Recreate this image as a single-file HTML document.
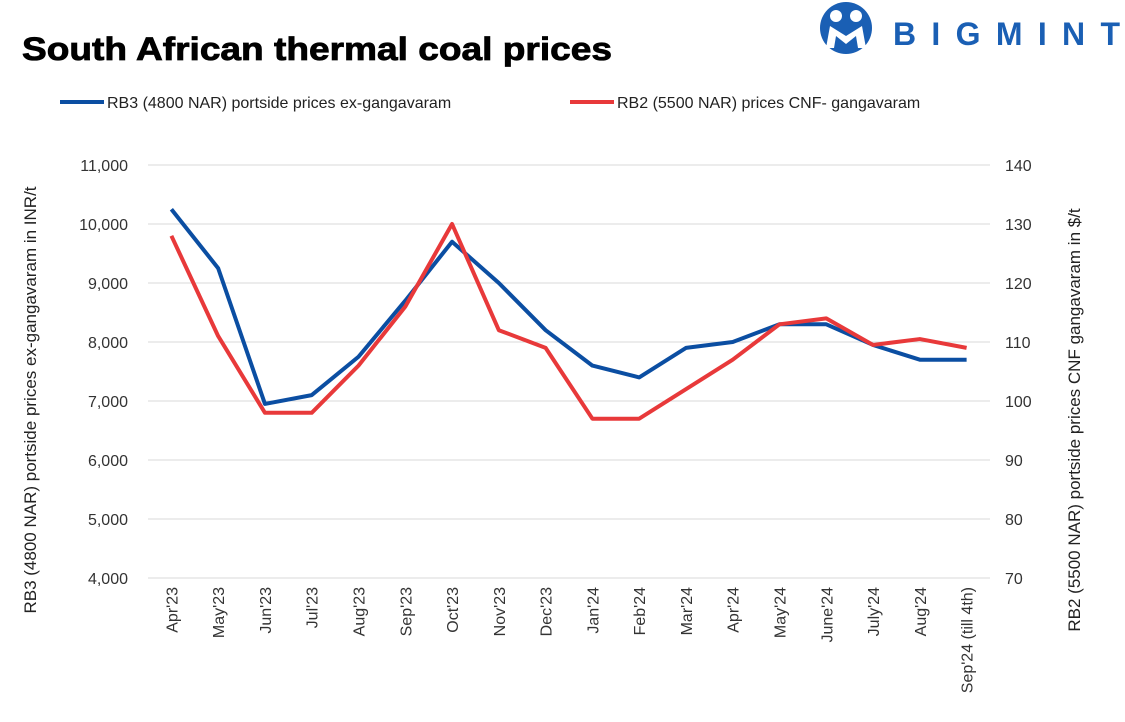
<!DOCTYPE html>
<html><head><meta charset="utf-8"><style>
body{margin:0;background:#fff;font-family:"Liberation Sans",sans-serif;}
</style></head><body>
<svg width="1125" height="717" xmlns="http://www.w3.org/2000/svg" font-family="Liberation Sans, sans-serif" id="chart">
<text x="22" y="60" font-size="32" font-weight="bold" fill="#000" textLength="590" lengthAdjust="spacingAndGlyphs" stroke="#000" stroke-width="0.8">South African thermal coal prices</text>
<g>
<circle cx="846" cy="28" r="26" fill="#1a5fb4"/>
<circle cx="836" cy="16" r="6" fill="#fff"/><circle cx="856" cy="16" r="6" fill="#fff"/>
<path d="M826 48 L830 26 L846 36 L862 26 L866 48 L858 48 L856 36 L846 44 L836 36 L834 48Z" fill="#fff"/>
<text x="893" y="45" font-size="32" font-weight="bold" fill="#1a5fb4" textLength="227" lengthAdjust="spacing">BIGMINT</text>
</g>
<g>
<line x1="60" y1="102" x2="104" y2="102" stroke="#0b4ea2" stroke-width="4"/>
<text x="107" y="108" font-size="16" fill="#222">RB3 (4800 NAR) portside prices ex-gangavaram</text>
<line x1="570" y1="102" x2="614" y2="102" stroke="#e8393a" stroke-width="4"/>
<text x="617" y="108" font-size="16" fill="#222">RB2 (5500 NAR) prices CNF- gangavaram</text>
</g>
<g id="grid"></g><g id="axes"></g><g id="series"></g>
<text transform="translate(36,400) rotate(-90)" text-anchor="middle" font-size="17" fill="#222">RB3 (4800 NAR) portside prices ex-gangavaram  in INR/t</text>
<text transform="translate(1080,420) rotate(-90)" text-anchor="middle" font-size="17" fill="#222">RB2 (5500 NAR) portside prices CNF  gangavaram  in $/t</text>
</svg>
<script>
const categories=["Apr'23","May'23","Jun'23","Jul'23","Aug'23","Sep'23","Oct'23","Nov'23","Dec'23","Jan'24","Feb'24","Mar'24","Apr'24","May'24","June'24","July'24","Aug'24","Sep'24 (till 4th)"];
const rb3Values=[10250,9250,6950,7100,7750,8700,9700,9000,8200,7600,7400,7900,8000,8300,8300,7950,7700,7700];
const rb2Values=[128,111,98,98,106,116,130,112,109,97,97,102,107,113,114,109.5,110.5,109];
const leftTicks=[4000,5000,6000,7000,8000,9000,10000,11000];
const rightTicks=[70,80,90,100,110,120,130,140];
const NS="http://www.w3.org/2000/svg";
const X0=148,X1=990,TOP=165,BOT=578;
const step=(X1-X0)/categories.length;
const x=i=>X0+step*(i+0.5);
const yL=v=>BOT-(v-4000)/(11000-4000)*(BOT-TOP);
const yR=v=>BOT-(v-70)/(140-70)*(BOT-TOP);
function mk(tag,attrs,parent,text){const e=document.createElementNS(NS,tag);for(const k in attrs)e.setAttribute(k,attrs[k]);if(text!==undefined)e.textContent=text;document.getElementById(parent).appendChild(e);return e;}
leftTicks.forEach(t=>{
 const g=mk('line',{x1:X0,x2:X1,y1:yL(t),y2:yL(t),stroke:'#d9d9d9','stroke-width':1},'grid');
 
 
 const l=mk('text',{x:128,y:yL(t)+6,'text-anchor':'end','font-size':16,fill:'#333'},'axes',t.toLocaleString('en-US'));
 
 
});
rightTicks.forEach(t=>{
 const l=mk('text',{x:1005,y:yR(t)+6,'font-size':16,fill:'#333'},'axes',String(t));
 
 
});
categories.forEach((c,i)=>{
 const l=mk('text',{transform:`translate(${x(i)+6},${BOT+9}) rotate(-90)`,'text-anchor':'end','font-size':16,fill:'#333'},'axes',c);
 
 
});
const p1=mk('polyline',{points:rb3Values.map((v,i)=>x(i)+','+yL(v)).join(' '),fill:'none',stroke:'#0b4ea2','stroke-width':4,'stroke-linejoin':'round'},'series');


const p2=mk('polyline',{points:rb2Values.map((v,i)=>x(i)+','+yR(v)).join(' '),fill:'none',stroke:'#e8393a','stroke-width':4,'stroke-linejoin':'round'},'series');


</script>
</body></html>
